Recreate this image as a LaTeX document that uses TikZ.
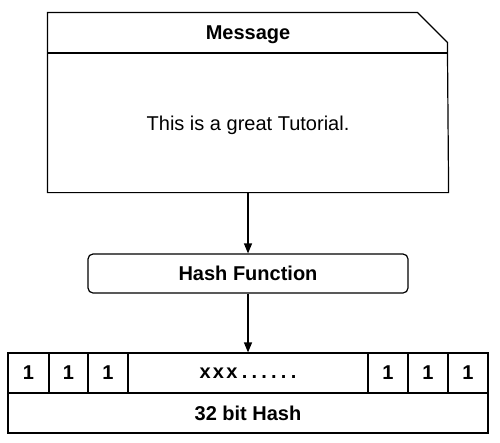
\documentclass[tikz,border=0pt]{standalone}
\usepackage{fontspec}
\setmainfont{Liberation Sans}
\usepackage{tikz}
\usetikzlibrary{arrows.meta}

\newcommand{\xdots}{x\hspace{2.2pt}x\hspace{2.2pt}x\hspace{4.5pt}.\hspace{4.2pt}.\hspace{4.2pt}.\hspace{4.2pt}.\hspace{4.2pt}.\hspace{4.2pt}.}

\begin{document}
\begin{tikzpicture}[x=1pt,y=-1pt,line width=1.2pt,
  txt/.style={font=\fontsize{20}{24}\selectfont},
  boldtxt/.style={font=\fontsize{20}{24}\selectfont\bfseries},
  cellbox/.style={draw,boldtxt,minimum height=40,inner sep=0pt},
  arr/.style={-{Triangle[length=10pt,width=8pt]}}]
 \useasboundingbox (0,0) rectangle (500,442);

 % message card with folded corner
 \node [minimum width=400,minimum height=179,inner sep=0pt] (msgbox) at (248,102.5) {};
 \draw (msgbox.north west) -- ++(370,0) -- ++(30,30) -- (msgbox.south east) -- (msgbox.south west) -- cycle;
 \draw (48,53) -- (448,53);
 \node [boldtxt] (msg) at (248,35) {Message};
 \node [txt] (msgtext) at (248,125) {This is a great Tutorial.};

 \node [draw,rounded corners=5pt,boldtxt,minimum width=320,minimum height=39,inner sep=0pt] (hash) at (248,273.5) {Hash Function};

 % bits of the hash
 \foreach \l/\r/\t [count=\i] in {8/49/1,49/88/1,88/128/1,128/368/\xdots,368/408/1,408/448/1,448/488/1}
   \node [cellbox,minimum width={\r-\l}] (b\i) at ({(\l+\r)/2},373) {\t};
 \node [cellbox,minimum width=480] (hashname) at (248,413) {32 bit Hash};

 \draw [arr] (msgbox.south) -- (hash.north);
 \draw [arr] (hash.south) -- (b4.north);
\end{tikzpicture}
\end{document}
